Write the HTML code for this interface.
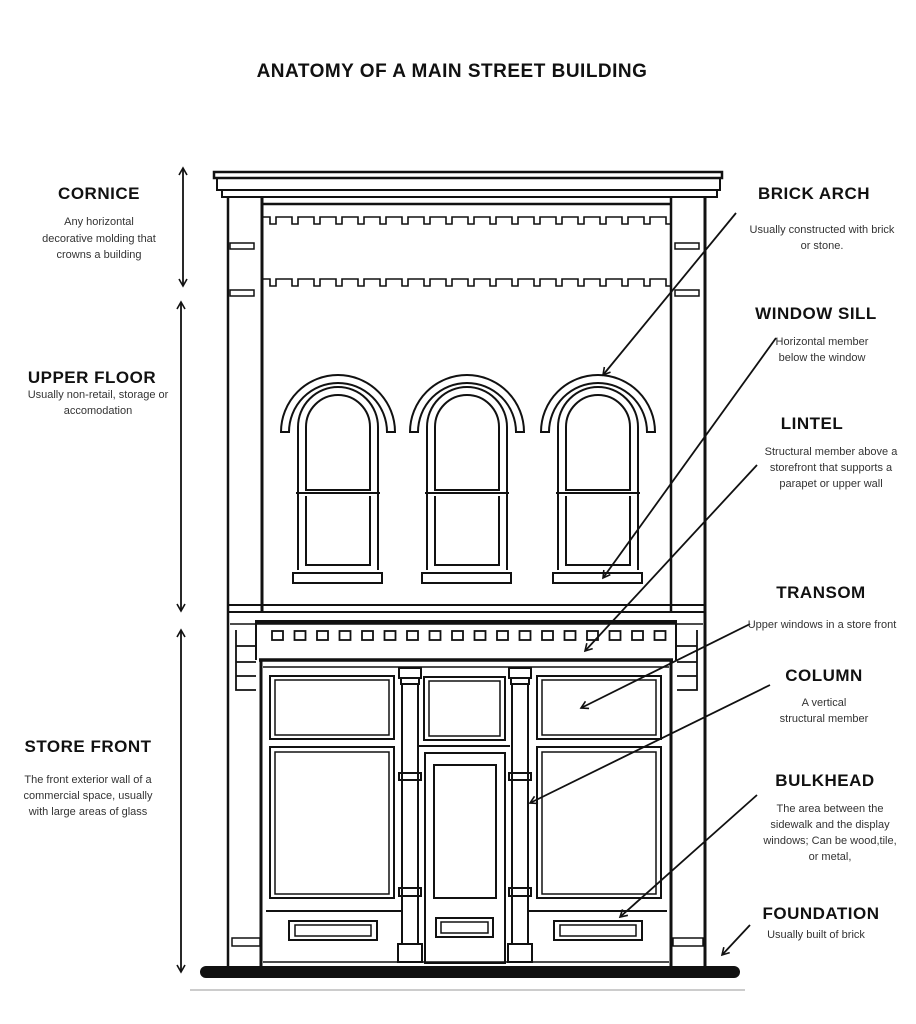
<!DOCTYPE html>
<html><head><meta charset="utf-8"><style>
html,body{margin:0;padding:0;background:#fff;}
svg{display:block;}
.h{font-family:"Liberation Sans",sans-serif;font-size:17px;font-weight:bold;letter-spacing:0.5px;fill:#111;text-anchor:middle;}
.d{font-family:"Liberation Sans",sans-serif;font-size:11px;fill:#333;text-anchor:middle;}
.t{font-family:"Liberation Sans",sans-serif;font-size:19px;font-weight:bold;letter-spacing:0.5px;fill:#111;text-anchor:middle;}
</style></head><body>
<svg width="916" height="1024" viewBox="0 0 916 1024" xmlns="http://www.w3.org/2000/svg">
<defs>
<pattern id="dent1" x="262" y="216" width="22" height="62" patternUnits="userSpaceOnUse">
<path d="M0 1H8V8H14V1H22" fill="none" stroke="#111" stroke-width="1.6"/>
</pattern>
<pattern id="dent2" x="266" y="630" width="22.5" height="40" patternUnits="userSpaceOnUse">
<rect x="6" y="1" width="11" height="9" fill="none" stroke="#111" stroke-width="1.8"/>
</pattern>
<marker id="ar" markerWidth="10" markerHeight="10" refX="8" refY="5" orient="auto" markerUnits="userSpaceOnUse">
<path d="M1 1L8 5L1 9" fill="none" stroke="#111" stroke-width="1.6"/>
</marker>
<marker id="as" markerWidth="10" markerHeight="10" refX="8" refY="5" orient="auto-start-reverse" markerUnits="userSpaceOnUse">
<path d="M1 1L8 5L1 9" fill="none" stroke="#111" stroke-width="1.6"/>
</marker>
</defs>

<text class="t" x="452" y="77">ANATOMY OF A MAIN STREET BUILDING</text>

<g fill="none" stroke="#111" stroke-width="2">
<rect x="214" y="172" width="508" height="6" stroke-width="2.5"/>
<path d="M217 178V190H720V178"/>
<path d="M222 190V197H717V190"/>
<line x1="262" y1="204" x2="671" y2="204" stroke-width="2.5"/>
<line x1="228" y1="197" x2="228" y2="968" stroke-width="2.5"/>
<line x1="262" y1="197" x2="262" y2="612" stroke-width="3"/>
<line x1="671" y1="197" x2="671" y2="612" stroke-width="2.5"/>
<line x1="705" y1="197" x2="705" y2="968" stroke-width="3"/>
<g stroke-width="1.5">
<rect x="230" y="243" width="24" height="6"/><rect x="230" y="290" width="24" height="6"/>
<rect x="675" y="243" width="24" height="6"/><rect x="675" y="290" width="24" height="6"/>
<rect x="232" y="938" width="28" height="8"/><rect x="673" y="938" width="30" height="8"/>
</g>
</g>
<rect x="262" y="216" width="409" height="10" fill="url(#dent1)"/>
<rect x="262" y="278" width="409" height="10" fill="url(#dent1)"/>

<g fill="none" stroke="#111" stroke-width="2">
<g id="w1">
<path d="M281 432A57 57 0 0 1 395 432H387A49 49 0 0 0 289 432Z"/>
<path d="M298 570V427A40 40 0 0 1 378 427V570"/>
<path d="M306 490V427A32 32 0 0 1 370 427V490Z"/>
<line x1="296" y1="493" x2="380" y2="493"/>
<path d="M306 496V565H370V496"/>
<rect x="293" y="573" width="89" height="10"/>
</g>
<use href="#w1" x="129"/>
<use href="#w1" x="260"/>
</g>

<g fill="none" stroke="#111">
<line x1="228" y1="605" x2="705" y2="605" stroke-width="2"/>
<line x1="228" y1="612" x2="705" y2="612" stroke-width="2"/>
<line x1="230" y1="624" x2="703" y2="624" stroke-width="1.5"/>
<rect x="256" y="620" width="420" height="4" fill="#111" stroke="none"/>
<line x1="256" y1="620" x2="256" y2="660" stroke-width="2"/>
<line x1="676" y1="620" x2="676" y2="660" stroke-width="2"/>
<path d="M236 630V690H256M236 646H256M236 662H256M236 676H256" stroke-width="1.8"/>
<path d="M697 630V690H677M697 646H677M697 662H677M697 676H677" stroke-width="1.8"/>
<line x1="259" y1="660" x2="673" y2="660" stroke-width="3.5"/>
<line x1="261" y1="660" x2="261" y2="968" stroke-width="3"/>
<line x1="671" y1="660" x2="671" y2="968" stroke-width="3"/>
<line x1="263" y1="667" x2="669" y2="667" stroke-width="1.5"/>
<line x1="263" y1="962" x2="669" y2="962" stroke-width="1.5"/>
</g>
<rect x="262" y="630" width="410" height="12" fill="url(#dent2)"/>

<g fill="none" stroke="#111" stroke-width="2">
<rect x="270" y="676" width="124" height="63"/><rect x="275" y="680" width="114" height="55" stroke-width="1.5"/>
<rect x="270" y="747" width="124" height="151"/><rect x="275" y="752" width="114" height="142" stroke-width="1.5"/>
<line x1="266" y1="911" x2="401" y2="911"/>
<rect x="289" y="921" width="88" height="19"/><rect x="295" y="925" width="76" height="11" stroke-width="1.5"/>
<rect x="537" y="676" width="124" height="63"/><rect x="542" y="680" width="114" height="55" stroke-width="1.5"/>
<rect x="537" y="747" width="124" height="151"/><rect x="542" y="752" width="114" height="142" stroke-width="1.5"/>
<line x1="529" y1="911" x2="667" y2="911"/>
<rect x="554" y="921" width="88" height="19"/><rect x="560" y="925" width="76" height="11" stroke-width="1.5"/>
<g id="col">
<rect x="399" y="668" width="22" height="10"/>
<rect x="401" y="678" width="18" height="6"/>
<line x1="402" y1="684" x2="402" y2="944"/><line x1="418" y1="684" x2="418" y2="944"/>
<rect x="399" y="773" width="22" height="7"/>
<rect x="399" y="888" width="22" height="8"/>
<rect x="398" y="944" width="24" height="18"/>
</g>
<use href="#col" x="110"/>
<rect x="424" y="677" width="81" height="63"/><rect x="429" y="681" width="71" height="55" stroke-width="1.5"/>
<line x1="418" y1="746" x2="510" y2="746"/>
<rect x="425" y="753" width="80" height="210"/>
<rect x="434" y="765" width="62" height="133"/>
<rect x="436" y="918" width="57" height="19"/><rect x="441" y="922" width="47" height="11" stroke-width="1.5"/>
</g>

<rect x="200" y="966" width="540" height="12" rx="6" fill="#111"/>
<line x1="190" y1="990" x2="745" y2="990" stroke="#ccc" stroke-width="2"/>

<g stroke="#111" stroke-width="1.8" fill="none">
<line x1="183" y1="168" x2="183" y2="286" marker-start="url(#as)" marker-end="url(#ar)"/>
<line x1="181" y1="302" x2="181" y2="611" marker-start="url(#as)" marker-end="url(#ar)"/>
<line x1="181" y1="630" x2="181" y2="972" marker-start="url(#as)" marker-end="url(#ar)"/>
<line x1="736" y1="213" x2="603" y2="375" marker-end="url(#ar)"/>
<line x1="776" y1="338" x2="603" y2="578" marker-end="url(#ar)"/>
<line x1="757" y1="465" x2="585" y2="651" marker-end="url(#ar)"/>
<line x1="750" y1="624" x2="581" y2="708" marker-end="url(#ar)"/>
<line x1="770" y1="685" x2="530" y2="803" marker-end="url(#ar)"/>
<line x1="757" y1="795" x2="620" y2="917" marker-end="url(#ar)"/>
<line x1="750" y1="925" x2="722" y2="955" marker-end="url(#ar)"/>
</g>

<text class="h" x="99" y="199">CORNICE</text>
<text class="d" x="99" y="225">Any horizontal</text>
<text class="d" x="99" y="242">decorative molding that</text>
<text class="d" x="99" y="258">crowns a building</text>
<text class="h" x="92" y="383">UPPER FLOOR</text>
<text class="d" x="98" y="398">Usually non-retail, storage or</text>
<text class="d" x="98" y="414">accomodation</text>
<text class="h" x="88" y="752">STORE FRONT</text>
<text class="d" x="88" y="783">The front exterior wall of a</text>
<text class="d" x="88" y="799">commercial space, usually</text>
<text class="d" x="88" y="815">with large areas of glass</text>

<text class="h" x="814" y="199">BRICK ARCH</text>
<text class="d" x="822" y="233">Usually constructed with brick</text>
<text class="d" x="822" y="249">or stone.</text>
<text class="h" x="816" y="319">WINDOW SILL</text>
<text class="d" x="822" y="345">Horizontal member</text>
<text class="d" x="822" y="361">below the window</text>
<text class="h" x="812" y="429">LINTEL</text>
<text class="d" x="831" y="455">Structural member above a</text>
<text class="d" x="831" y="471">storefront that supports a</text>
<text class="d" x="831" y="487">parapet or upper wall</text>
<text class="h" x="821" y="598">TRANSOM</text>
<text class="d" x="822" y="628">Upper windows in a store front</text>
<text class="h" x="824" y="681">COLUMN</text>
<text class="d" x="824" y="706">A vertical</text>
<text class="d" x="824" y="722">structural member</text>
<text class="h" x="825" y="786">BULKHEAD</text>
<text class="d" x="830" y="812">The area between the</text>
<text class="d" x="830" y="828">sidewalk and the display</text>
<text class="d" x="830" y="844">windows; Can be wood,tile,</text>
<text class="d" x="830" y="860">or metal,</text>
<text class="h" x="821" y="919">FOUNDATION</text>
<text class="d" x="816" y="938">Usually built of brick</text>
</svg>
</body></html>
